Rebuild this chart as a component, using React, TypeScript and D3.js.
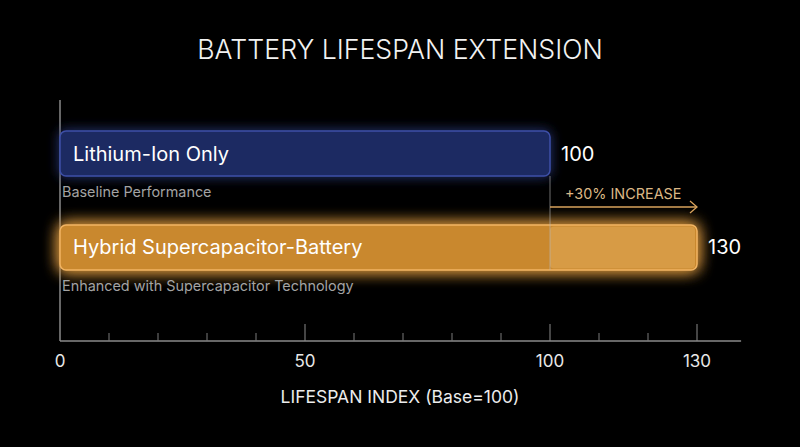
import * as d3 from 'd3';

const categories = ['Lithium-Ion Only', 'Hybrid Supercapacitor-Battery'];
const subtitles = ['Baseline Performance', 'Enhanced with Supercapacitor Technology'];
const values = [100, 130];
const majorTicks = [50, 100, 130];
const minorTicks = [10, 20, 30, 40, 60, 70, 80, 90, 110, 120];
const tickLabels = [0, 50, 100, 130];
const increaseLabel = '+30% INCREASE';

const W = 800;
const H = 447;
const FONT = 'Inter, "Noto Sans", sans-serif';

export default function App() {
  // x: 0 -> 60px, 130 -> 697px
  const x = d3.scaleLinear().domain([0, 130]).range([60, 697]);
  const y = d3
    .scaleBand<string>()
    .domain(categories)
    .range([131, 270])
    .paddingInner(0.521)
    .paddingOuter(0);

  const axisY = 341;
  const axisEnd = x(139);
  const bw = y.bandwidth();

  const baseY = y(categories[0])!;
  const hybY = y(categories[1])!;
  const arrowY = hybY - 18;

  return (
    <div style={{ position: 'fixed', inset: 0, background: '#000' }}>
      <svg width={W} height={H} style={{ display: 'block', background: '#000' }} fontFamily={FONT}>
        <defs>
          <filter id="glowBlue" x="-20%" y="-80%" width="140%" height="260%">
            <feGaussianBlur in="SourceGraphic" stdDeviation="6" result="b" />
            <feMerge>
              <feMergeNode in="b" />
              <feMergeNode in="SourceGraphic" />
            </feMerge>
          </filter>
          <filter id="glowOrange" x="-20%" y="-80%" width="140%" height="260%">
            <feGaussianBlur in="SourceGraphic" stdDeviation="8" result="b" />
            <feMerge>
              <feMergeNode in="b" />
              <feMergeNode in="b" />
              <feMergeNode in="SourceGraphic" />
            </feMerge>
          </filter>
        </defs>

        {/* title */}
        <text
          x={W / 2}
          y={59}
          textAnchor="middle"
          fill="#f2f2f2"
          fontSize={26.7}
          fontWeight={300}
        >
          BATTERY LIFESPAN EXTENSION
        </text>

        {/* y axis line */}
        <line x1={x(0)} x2={x(0)} y1={100} y2={axisY} stroke="#8a8a8a" strokeWidth={1.5} />

        {/* bars */}
        <rect
          x={x(0)}
          y={baseY}
          width={x(values[0]) - x(0)}
          height={bw}
          rx={6}
          fill="#1f2b62"
          stroke="#3d4fa8"
          strokeWidth={1.5}
          filter="url(#glowBlue)"
        />
        <rect
          x={x(0)}
          y={hybY}
          width={x(values[1]) - x(0)}
          height={bw}
          rx={6}
          fill="#c9882f"
          stroke="#f2b462"
          strokeWidth={1.5}
          filter="url(#glowOrange)"
        />
        {/* lighter extension segment */}
        <rect
          x={x(values[0])}
          y={hybY + 1.5}
          width={x(values[1]) - x(values[0]) - 2}
          height={bw - 3}
          rx={4}
          fill="#e6ad5c"
          opacity={0.5}
        />

        {/* marker at baseline 100 */}
        <line
          x1={x(values[0])}
          x2={x(values[0])}
          y1={baseY + bw}
          y2={hybY + bw}
          stroke="#b8b8b8"
          strokeOpacity={0.6}
          strokeWidth={1}
        />

        {/* increase arrow */}
        <line x1={x(values[0])} x2={x(values[1])} y1={arrowY} y2={arrowY} stroke="#d9a35c" strokeWidth={1.3} />
        <polyline
          points={`${x(values[1]) - 7},${arrowY - 6} ${x(values[1])},${arrowY} ${x(values[1]) - 7},${arrowY + 6}`}
          fill="none"
          stroke="#d9a35c"
          strokeWidth={1.3}
        />
        <text x={x(values[0]) + 15} y={arrowY - 8} fill="#dcb886" fontSize={14.4}>
          {increaseLabel}
        </text>

        {/* bar labels */}
        {categories.map((c, i) => (
          <g key={c}>
            <text
              x={x(0) + 13}
              y={y(c)! + bw / 2}
              dominantBaseline="central"
              fill="#ffffff"
              fontSize={20}
            >
              {c}
            </text>
            <text x={x(0) + 2} y={y(c)! + bw + 21} fill="#a3a3a3" fontSize={14.4}>
              {subtitles[i]}
            </text>
            <text
              x={x(values[i]) + 11}
              y={y(c)! + bw / 2}
              dominantBaseline="central"
              fill="#ffffff"
              fontSize={20}
            >
              {values[i]}
            </text>
          </g>
        ))}

        {/* x axis */}
        <line x1={x(0)} x2={axisEnd} y1={axisY} y2={axisY} stroke="#8a8a8a" strokeWidth={1.5} />
        {minorTicks.map((t) => (
          <line key={`mi${t}`} x1={x(t)} x2={x(t)} y1={axisY - 8} y2={axisY} stroke="#7a7a7a" strokeWidth={1} />
        ))}
        {majorTicks.map((t) => (
          <line key={`ma${t}`} x1={x(t)} x2={x(t)} y1={axisY - 17} y2={axisY} stroke="#8a8a8a" strokeWidth={1} />
        ))}
        {tickLabels.map((t) => (
          <text
            key={`tl${t}`}
            x={x(t)}
            y={axisY + 20}
            textAnchor="middle"
            dominantBaseline="central"
            fill="#e8e8e8"
            fontSize={17}
          >
            {t}
          </text>
        ))}
        <text
          x={W / 2}
          y={403}
          textAnchor="middle"
          fill="#ececec"
          fontSize={17.5}
        >
          LIFESPAN INDEX (Base=100)
        </text>
      </svg>
    </div>
  );
}
